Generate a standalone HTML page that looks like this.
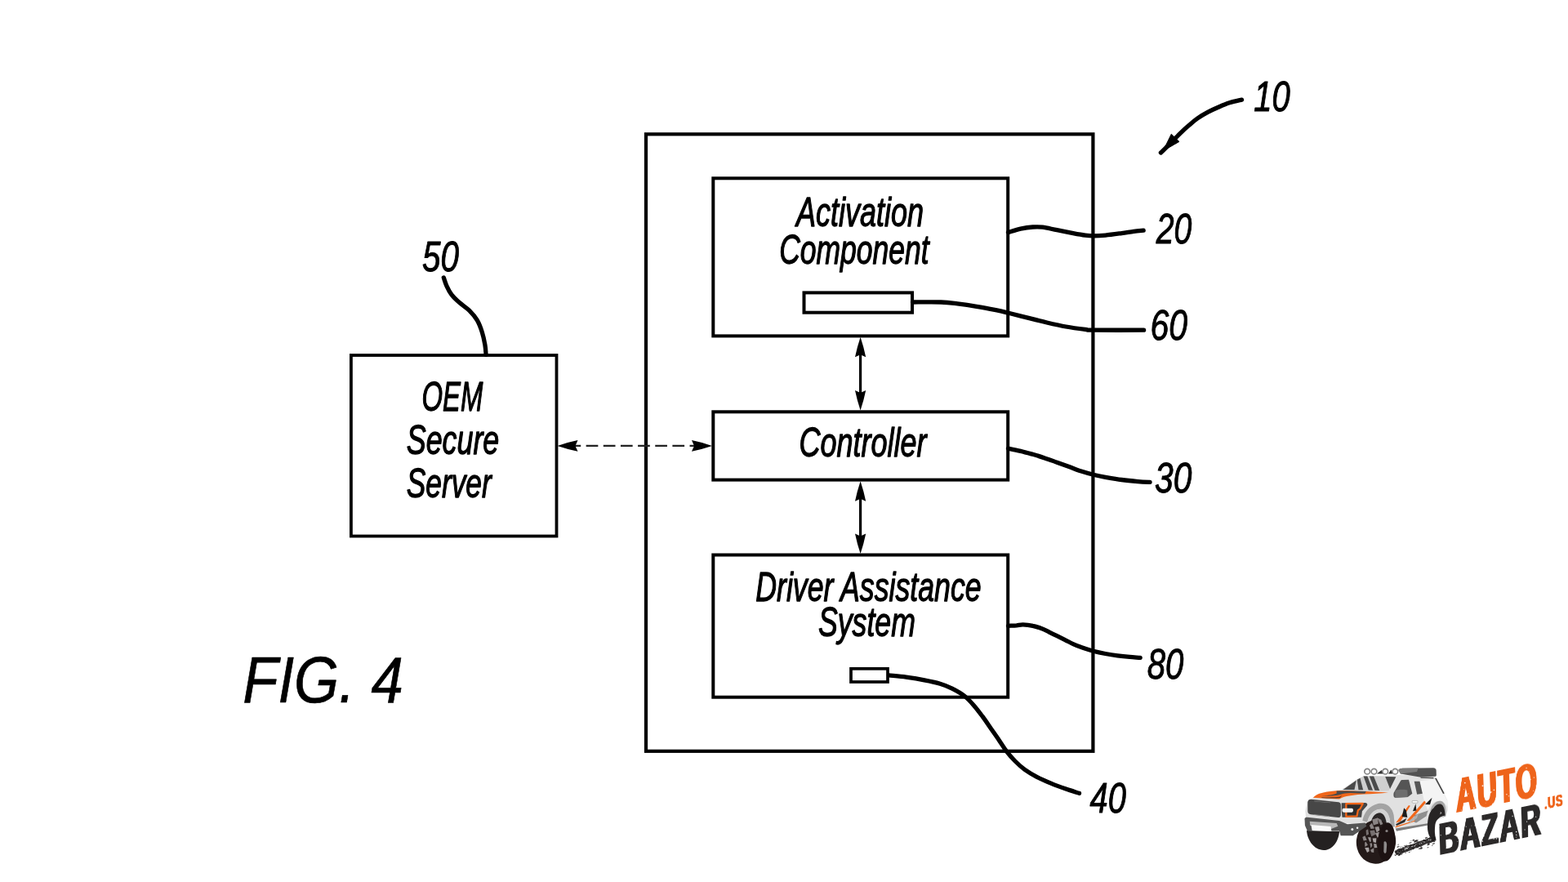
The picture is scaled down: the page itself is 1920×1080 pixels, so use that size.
<!DOCTYPE html>
<html lang="en">
<head>
<meta charset="utf-8">
<title>FIG. 4</title>
<style>
html,body{margin:0;padding:0;background:#fff;width:1920px;height:1080px;overflow:hidden}
svg{display:block;position:absolute;left:0;top:0}
.grit{pointer-events:none}
.lg{position:absolute;margin:0;padding:0;height:0;line-height:0;white-space:nowrap;font-family:"Liberation Sans",sans-serif;font-weight:700;transform-origin:0 0;letter-spacing:0.055em;will-change:transform}
.lbl{filter:grayscale(1)}
.lbl text{font-family:"Liberation Sans",sans-serif;font-style:italic;fill:#000;stroke:#000;stroke-width:1.3px;stroke-linejoin:round}
.box{fill:none;stroke:#000}
.lead{fill:none;stroke:#000;stroke-width:5.3;stroke-linecap:round;stroke-linejoin:round}
</style>
</head>
<body>
<svg width="1920" height="1080" viewBox="0 0 1920 1080">
<rect width="1920" height="1080" fill="#fff"/>
<g class="box">
<rect x="791" y="164.3" width="547.4" height="755.5" stroke-width="4.2"/>
<rect x="873.3" y="218.3" width="360.9" height="193.1" stroke-width="4"/>
<rect x="873.3" y="504.3" width="360.9" height="83.3" stroke-width="4"/>
<rect x="873.3" y="679.5" width="360.9" height="174.2" stroke-width="4"/>
<rect x="429.9" y="435" width="251.6" height="221.5" stroke-width="3.8"/>
<rect x="984.5" y="358.4" width="132.5" height="24.3" stroke-width="4"/>
<rect x="1042" y="818.8" width="45" height="16.2" stroke-width="3.7"/>
</g>
<path d="M696.5,545.9 H850" fill="none" stroke="#222" stroke-width="2.2" stroke-dasharray="14.7 6.45"/>
<g fill="#000" stroke="none">
<rect x="1052.0" y="430" width="3.2" height="55"/>
<rect x="1052.0" y="606" width="3.2" height="55"/>
<path d="M1053.6,412.8 Q1057.69,425.05 1060.2,437.3 L1053.6,434.3 L1047.0,437.3 Q1049.51,425.05 1053.6,412.8 Z"/>
<path d="M1053.6,502.6 Q1057.69,490.35 1060.2,478.1 L1053.6,481.1 L1047.0,478.1 Q1049.51,490.35 1053.6,502.6 Z"/>
<path d="M1053.6,589.2 Q1057.69,601.45 1060.2,613.7 L1053.6,610.7 L1047.0,613.7 Q1049.51,601.45 1053.6,589.2 Z"/>
<path d="M1053.6,678.0 Q1057.69,665.75 1060.2,653.5 L1053.6,656.5 L1047.0,653.5 Q1049.51,665.75 1053.6,678.0 Z"/>
<path d="M682.5,545.9 Q695.0,541.68 707.5,539.1 L704.5,545.9 L707.5,552.7 Q695.0,550.12 682.5,545.9 Z"/>
<path d="M872,545.9 Q859.5,541.68 847,539.1 L850,545.9 L847,552.7 Q859.5,550.12 872,545.9 Z"/>
</g>
<g class="lead">
<path d="M543.3,339.9 C543.9,341.6 545.3,346.6 546.9,350.1 C548.5,353.6 550.4,357.5 553.0,360.9 C555.6,364.3 559.0,367.4 562.6,370.6 C566.2,373.8 571.0,376.6 574.6,380.2 C578.2,383.8 581.7,387.8 584.3,392.2 C586.9,396.6 588.7,401.7 590.3,406.7 C591.9,411.7 593.1,417.7 593.9,422.3 C594.7,426.9 594.9,432.4 595.1,434.4"/>
<path d="M1520.5,122.1 C1518.0,122.7 1510.3,124.3 1505.6,125.8 C1500.9,127.3 1496.8,129.1 1492.4,131.0 C1488.0,132.9 1483.6,134.9 1479.3,137.2 C1475.0,139.5 1470.3,142.2 1466.4,144.9 C1462.5,147.6 1459.2,150.7 1455.8,153.6 C1452.4,156.5 1449.0,159.6 1446.1,162.4 C1443.2,165.2 1441.1,167.4 1438.3,170.2 C1435.5,173.0 1432.3,176.2 1429.5,179.0 C1426.7,181.8 1422.8,185.7 1421.4,187.0"/>
<path d="M1234.5,284.6 C1237.0,283.9 1244.7,281.3 1249.7,280.2 C1254.7,279.1 1260.1,278.3 1264.6,278.0 C1269.1,277.7 1271.5,277.6 1276.5,278.2 C1281.5,278.8 1288.0,280.5 1294.3,281.7 C1300.6,282.9 1308.3,284.5 1314.1,285.6 C1319.9,286.7 1324.8,287.6 1328.9,288.1 C1333.0,288.6 1334.7,288.8 1338.8,288.8 C1342.9,288.8 1347.8,288.6 1353.6,288.1 C1359.4,287.6 1367.6,286.4 1373.4,285.6 C1379.2,284.8 1383.8,283.9 1388.3,283.3 C1392.8,282.7 1398.2,282.4 1400.2,282.2"/>
<path d="M1117.5,370.0 C1123.3,370.0 1143.0,369.7 1152.2,370.0 C1161.4,370.3 1165.2,371.0 1172.5,371.9 C1179.8,372.8 1188.1,374.0 1195.9,375.3 C1203.7,376.6 1212.9,378.4 1219.4,379.7 C1225.9,381.0 1228.5,381.7 1235.0,383.3 C1241.5,384.9 1250.6,387.2 1258.4,389.1 C1266.2,391.1 1274.1,393.2 1281.9,395.0 C1289.7,396.8 1297.5,398.6 1305.3,400.0 C1313.1,401.4 1323.1,402.7 1328.8,403.4 C1334.5,404.1 1327.7,404.1 1339.7,404.2 C1351.7,404.3 1390.4,404.2 1400.6,404.2"/>
<path d="M1234.5,549.1 C1237.0,549.6 1244.7,551.1 1249.7,552.3 C1254.7,553.5 1259.6,554.9 1264.6,556.3 C1269.5,557.7 1274.5,559.2 1279.4,560.9 C1284.4,562.5 1289.3,564.4 1294.3,566.2 C1299.2,568.0 1304.1,569.8 1309.1,571.6 C1314.0,573.4 1319.0,575.5 1324.0,577.1 C1329.0,578.7 1333.9,580.1 1338.8,581.3 C1343.7,582.5 1347.8,583.3 1353.6,584.3 C1359.4,585.3 1366.8,586.6 1373.4,587.5 C1380.0,588.4 1387.4,589.1 1393.2,589.6 C1399.0,590.1 1405.6,590.3 1408.1,590.4"/>
<path d="M1234.5,766.3 C1236.2,766.2 1241.8,766.0 1244.8,765.8 C1247.8,765.5 1249.4,764.7 1252.7,764.8 C1256.0,764.9 1261.0,765.5 1264.6,766.3 C1268.2,767.0 1271.2,768.0 1274.5,769.3 C1277.8,770.5 1281.1,772.2 1284.4,773.8 C1287.7,775.4 1291.0,777.1 1294.3,778.7 C1297.6,780.3 1300.9,782.0 1304.2,783.6 C1307.5,785.2 1310.8,787.1 1314.1,788.6 C1317.4,790.1 1319.9,791.2 1324.0,792.6 C1328.1,794.0 1333.9,796.0 1338.8,797.3 C1343.7,798.6 1348.6,799.6 1353.6,800.5 C1358.5,801.4 1363.5,802.2 1368.5,802.9 C1373.5,803.5 1378.7,804.0 1383.3,804.4 C1387.9,804.8 1394.0,805.2 1396.2,805.4"/>
<path d="M1088.5,826.9 C1092.0,827.3 1102.4,828.1 1109.6,829.1 C1116.8,830.1 1125.0,831.4 1131.9,832.8 C1138.8,834.1 1145.4,835.5 1151.1,837.2 C1156.8,838.9 1161.0,840.6 1165.9,843.1 C1170.8,845.6 1176.2,848.5 1180.7,852.0 C1185.2,855.5 1188.9,859.7 1192.6,863.9 C1196.3,868.1 1199.5,872.5 1203.0,877.2 C1206.5,881.9 1209.8,887.0 1213.3,892.0 C1216.8,897.0 1220.5,902.2 1223.7,906.9 C1226.9,911.6 1229.4,916.0 1232.6,920.2 C1235.8,924.4 1239.3,928.3 1243.0,932.0 C1246.7,935.7 1250.4,939.2 1254.8,942.4 C1259.2,945.6 1264.2,948.5 1269.6,951.3 C1275.0,954.1 1281.5,956.9 1287.4,959.4 C1293.3,961.9 1299.5,964.1 1305.2,966.1 C1310.9,968.1 1318.8,970.4 1321.5,971.3"/>
</g>
<path d="M1434.3,164.2 L1443.9,173.4 L1424.2,184.8 Z" fill="#000" stroke="#000" stroke-width="1" stroke-linejoin="round"/>
<g class="lbl">
<text transform="translate(975.0,277.2) scale(0.7204,1)" font-size="50.0">Activation</text>
<text transform="translate(954.25,323.0) scale(0.7093,1)" font-size="50.0">Component</text>
<text transform="translate(978.5,558.5) scale(0.7196,1)" font-size="50.0">Controller</text>
<text transform="translate(925.25,736.0) scale(0.714,1)" font-size="50.0">Driver Assistance</text>
<text transform="translate(1002.0,779.3) scale(0.7133,1)" font-size="50.0">System</text>
<text transform="translate(516.5,502.5) scale(0.6564,1)" font-size="50.0">OEM</text>
<text transform="translate(497.75,556.0) scale(0.7166,1)" font-size="50.0">Secure</text>
<text transform="translate(497.75,608.5) scale(0.7059,1)" font-size="50.0">Server</text>
<text transform="translate(517.0,331.5) scale(0.7825,1)" font-size="51.6" style="stroke-width:1.0px">50</text>
<text transform="translate(1535.3,135.7) scale(0.775,1)" font-size="51.6" style="stroke-width:1.0px">10</text>
<text transform="translate(1415.7,297.8) scale(0.7598,1)" font-size="51.6" style="stroke-width:1.0px">20</text>
<text transform="translate(1408.4,415.6) scale(0.7934,1)" font-size="51.6" style="stroke-width:1.0px">60</text>
<text transform="translate(1414.0,602.7) scale(0.7891,1)" font-size="51.6" style="stroke-width:1.0px">30</text>
<text transform="translate(1404.8,831.2) scale(0.778,1)" font-size="51.6" style="stroke-width:1.0px">80</text>
<text transform="translate(1334.6,994.5) scale(0.7703,1)" font-size="51.6" style="stroke-width:1.0px">40</text>
<text transform="translate(297.2,860.3) scale(0.8843,1)" font-size="80" style="stroke-width:0.7px">FIG. 4</text>
</g>

<g transform="translate(1590,935) scale(0.083333)">
<path d="M120,985 L600,995 C595,1120 510,1272 370,1272 C225,1272 128,1120 120,985 Z" fill="#242121"/>
<path d="M215,500 L300,440 L450,405 L640,385 L860,235 L960,182 L1440,172 L1500,165 L2010,195 L2140,440 L2188,540 L2192,690 L2160,775 L2010,840 L1900,905 L1440,990 L1400,900 L960,905 L640,870 L110,810 L100,700 L130,560 Z" fill="#e1e1e1"/>
<path d="M1425,955 L1895,880 L1900,905 L1440,992 Z" fill="#7d7d7d"/>
<path d="M940,840 C960,720 1040,620 1160,590 C1290,565 1380,640 1400,760 L1415,930 L1350,930 C1350,800 1320,700 1230,670 C1120,655 1040,740 1010,860 Z" fill="#a3a3a3"/>
<path d="M1010,860 C1040,740 1120,665 1230,670 C1320,700 1350,800 1352,930 L1300,930 C1290,820 1270,740 1200,720 C1120,715 1075,790 1060,870 Z" fill="#d2d2d2"/>
<path d="M1060,880 C1075,790 1120,722 1200,722 C1270,740 1292,820 1300,940 L1060,940 Z" fill="#2b2727"/>
<path d="M1780,255 L2000,232 L2132,440 L2185,545 L2188,640 C2150,560 2080,530 2010,560 C1960,580 1930,620 1900,680 L1850,560 L1822,440 Z" fill="#f4f4f4"/>
<path d="M1935,690 C1965,590 2035,535 2100,552 C2155,572 2172,650 2165,775 L2125,790 L1960,720 Z" fill="#a6a6a6"/>
<path d="M1985,655 C2010,610 2060,585 2095,598 C2135,615 2150,680 2155,762 C2080,775 2020,820 2008,900 C1998,1000 2002,1060 2022,1112 L1985,1130 C1930,1100 1898,1030 1895,935 C1895,800 1925,700 1985,655 Z" fill="#272424"/>
<g transform="rotate(6 1140 1150)">
<ellipse cx="1140" cy="1150" rx="290" ry="322" fill="#241a19"/>
</g>
<path d="M1084,822 L1162,799 L1175,882 L1101,905 Z" fill="#8a8484"/>
<path d="M1154,794 L1214,824 L1240,887 L1204,903 Z" fill="#8a8484"/>
<path d="M1043,909 L1078,872 L1116,953 L1063,960 Z" fill="#8a8484"/>
<path d="M1121,934 L1180,925 L1194,979 L1149,1014 Z" fill="#9a9494"/>
<path d="M991,980 L1022,964 L1033,1037 L997,1055 Z" fill="#777070"/>
<path d="M1048,986 L1115,977 L1137,1037 L1072,1071 Z" fill="#777070"/>
<path d="M1128,1024 L1188,1006 L1178,1070 L1163,1092 Z" fill="#9a9494"/>
<path d="M940,1081 L976,1059 L1005,1125 L956,1135 Z" fill="#8a8484"/>
<path d="M1018,1082 L1062,1084 L1066,1145 L1048,1153 Z" fill="#9a9494"/>
<path d="M1087,1097 L1145,1094 L1139,1164 L1100,1155 Z" fill="#aaa4a4"/>
<path d="M974,1162 L988,1147 L1019,1196 L976,1225 Z" fill="#8a8484"/>
<path d="M1048,1170 L1080,1170 L1083,1210 L1061,1241 Z" fill="#8a8484"/>
<path d="M1106,1175 L1144,1180 L1157,1237 L1112,1238 Z" fill="#9a9494"/>
<path d="M974,1237 L1033,1233 L1041,1288 L1009,1308 Z" fill="#aaa4a4"/>
<path d="M1056,1270 L1108,1240 L1107,1309 L1071,1303 Z" fill="#8a8484"/>
<ellipse cx="1292" cy="1150" rx="128" ry="285" fill="#1d1212" transform="rotate(4 1292 1150)"/>
<path d="M1255,1150 C1275,1130 1300,1150 1298,1200 L1290,1300 C1280,1330 1255,1320 1252,1290 Z" fill="#8f8b8b"/>
<circle cx="1296" cy="990" r="19" fill="#8a8585"/>
<path d="M135,565 C140,535 160,522 185,525 L590,568 C612,572 622,590 622,612 L622,755 C622,780 605,795 580,792 L180,748 C150,742 135,725 135,695 Z" fill="#474747"/>
<path d="M230,548 L470,572 L470,580 L230,556 Z" fill="#8a8a8a"/>
<path d="M225,745 L455,772 L455,782 L225,755 Z" fill="#8a8a8a"/>
<path d="M632,580 L985,575 C1010,580 1020,600 1005,620 L935,700 L925,790 L642,790 L632,700 Z" fill="#464646"/>
<path d="M700,590 L945,588 L905,665 L875,685 L858,772 L700,778 Z" fill="#2d2d2d" stroke="#f0661a" stroke-width="27" stroke-linejoin="round"/>
<rect x="642" y="658" width="162" height="58" rx="22" fill="#f3f3f3"/>
<path d="M215,500 C250,455 330,425 450,410 C560,398 640,392 760,398 L1000,408 L1320,425 C1200,440 1080,442 960,450 C840,458 720,470 640,500 L600,522 Z" fill="#f0661a"/>
<path d="M560,402 L995,405 L975,440 L760,432 C700,434 660,440 620,452 C560,470 460,480 340,478 C440,470 520,455 560,438 Z" fill="#4a4a4a"/>
<path d="M340,495 C440,500 540,498 600,490 L640,470 L610,505 C540,515 440,512 340,505 Z" fill="#5a3a2a"/>
<path d="M640,385 L860,235 L960,182 L1430,195 L1325,400 L1000,408 Z" fill="#cfcfcf"/>
<path d="M655,383 L850,245 L822,385 Z" fill="#4a4a4a"/>
<path d="M862,236 L905,214 L950,388 L882,386 Z" fill="#4a4a4a"/>
<path d="M955,187 L1012,185 L1092,392 L1028,390 Z" fill="#4a4a4a"/>
<path d="M1042,186 L1105,187 L1190,396 L1122,394 Z" fill="#4a4a4a"/>
<path d="M1275,192 L1432,196 L1345,372 Z" fill="#4a4a4a"/>
<path d="M1400,430 L1498,258 C1505,245 1515,240 1530,240 L1620,238 L1672,440 L1605,492 L1420,502 C1400,500 1392,470 1400,430 Z" fill="#555555"/>
<path d="M1420,400 C1440,380 1560,375 1600,390 L1605,492 L1420,502 Z" fill="#6e6e6e"/>
<path d="M1700,262 L1782,260 L1822,440 L1742,452 Z" fill="#555555"/>
<path d="M1468,95 C1480,75 1500,70 1530,68 L1980,64 C2010,66 2022,80 2024,100 L2026,170 C2024,185 2015,190 2000,190 L1800,200 L1500,150 Z" fill="#525252"/>
<path d="M1468,95 C1480,75 1500,70 1530,68 L1760,66 L1740,120 L1500,150 Z" fill="#7a7a7a"/>
<path d="M1795,200 L1985,205 L1985,218 L1795,214 Z" fill="#3d3d3d"/>
<path d="M2005,215 L2025,212 L2145,438 L2125,445 Z" fill="#444444"/>
<path d="M1150,150 L1220,95 L1250,150 Z" fill="#333"/>
<path d="M1320,150 L1360,90 L1390,150 Z" fill="#333"/>
<circle cx="1010" cy="116" r="40" fill="#ffffff" stroke="#858585" stroke-width="20"/>
<circle cx="1110" cy="116" r="40" fill="#ffffff" stroke="#858585" stroke-width="20"/>
<circle cx="1275" cy="116" r="40" fill="#ffffff" stroke="#858585" stroke-width="20"/>
<circle cx="1420" cy="116" r="40" fill="#ffffff" stroke="#858585" stroke-width="20"/>
<rect x="1670" y="545" width="82" height="34" rx="10" fill="#f8f8f8" stroke="#8a8a8a" stroke-width="6"/>
<path d="M1700,760 L1905,690 L1890,730 L1880,770 L1730,870 L1700,860 Z" fill="#8f8f8f"/>
<path d="M1590,840 L1640,842 L1872,572 L1850,545 Z" fill="#f0661a"/>
<path d="M1430,870 L1500,848 L1642,622 L1620,612 Z" fill="#f0661a"/>
<path d="M1420,942 L1700,852 L1722,830 L1430,922 Z" fill="#f0661a"/>
<path d="M1520,780 L1550,650 L1582,690 L1600,792 Z" fill="#1c1c1c"/>
<path d="M1680,700 L1722,590 L1732,690 Z" fill="#1c1c1c"/>
<path d="M1860,600 L1962,500 L1932,602 Z" fill="#1c1c1c"/>
<path d="M1430,890 L1590,800 L1560,860 L1440,912 Z" fill="#2a2a2a"/>
<path d="M1610,850 L1760,740 L1740,800 L1640,870 Z" fill="#b0b0b0"/>
<path d="M90,810 C95,795 110,788 130,790 L600,840 L720,890 L980,870 L1000,920 L900,990 L800,1060 L620,1060 L600,990 L130,990 L95,910 Z" fill="#555555"/>
<path d="M165,850 L560,875 L580,920 L480,960 L170,910 Z" fill="#b8b8b8"/>
<path d="M185,900 L475,925 L485,995 L200,985 Z" fill="#fafafa"/>
<circle cx="790" cy="965" r="18" fill="#f0f0f0"/><circle cx="865" cy="945" r="15" fill="#f0f0f0"/>
<path d="M1410,1292 L1465,1252 L1530,1240 L1600,1204 L1680,1182 L1760,1146 L1850,1120 L1930,1088 L2005,1075 L2018,1122 L1955,1160 L1880,1180 L1800,1218 L1720,1242 L1640,1278 L1560,1305 L1490,1335 L1435,1338 Z" fill="#1f1b1b" opacity="0.88"/>
<ellipse cx="1606" cy="1232" rx="16" ry="8" fill="#221e1e" opacity="0.66" transform="rotate(-19 1606 1232)"/>
<ellipse cx="1459" cy="1281" rx="8" ry="4" fill="#221e1e" opacity="0.70" transform="rotate(-19 1459 1281)"/>
<ellipse cx="1456" cy="1228" rx="9" ry="5" fill="#221e1e" opacity="0.60" transform="rotate(-19 1456 1228)"/>
<ellipse cx="1803" cy="1212" rx="16" ry="8" fill="#221e1e" opacity="0.68" transform="rotate(-19 1803 1212)"/>
<ellipse cx="1985" cy="1130" rx="10" ry="5" fill="#221e1e" opacity="0.55" transform="rotate(-19 1985 1130)"/>
<ellipse cx="1613" cy="1219" rx="10" ry="5" fill="#221e1e" opacity="0.76" transform="rotate(-19 1613 1219)"/>
<ellipse cx="1796" cy="1164" rx="8" ry="4" fill="#221e1e" opacity="0.59" transform="rotate(-19 1796 1164)"/>
<ellipse cx="1821" cy="1165" rx="12" ry="6" fill="#221e1e" opacity="0.76" transform="rotate(-19 1821 1165)"/>
<ellipse cx="1685" cy="1231" rx="11" ry="6" fill="#221e1e" opacity="0.76" transform="rotate(-19 1685 1231)"/>
<ellipse cx="1741" cy="1143" rx="18" ry="9" fill="#221e1e" opacity="0.63" transform="rotate(-19 1741 1143)"/>
<ellipse cx="1989" cy="1053" rx="10" ry="5" fill="#221e1e" opacity="0.72" transform="rotate(-19 1989 1053)"/>
<ellipse cx="1452" cy="1329" rx="19" ry="9" fill="#221e1e" opacity="0.76" transform="rotate(-19 1452 1329)"/>
<ellipse cx="1933" cy="1113" rx="16" ry="8" fill="#221e1e" opacity="0.71" transform="rotate(-19 1933 1113)"/>
<ellipse cx="1927" cy="1089" rx="15" ry="7" fill="#221e1e" opacity="0.80" transform="rotate(-19 1927 1089)"/>
<ellipse cx="1465" cy="1221" rx="20" ry="10" fill="#221e1e" opacity="0.63" transform="rotate(-19 1465 1221)"/>
<ellipse cx="1655" cy="1132" rx="8" ry="4" fill="#221e1e" opacity="0.71" transform="rotate(-19 1655 1132)"/>
<ellipse cx="1514" cy="1332" rx="9" ry="5" fill="#221e1e" opacity="0.61" transform="rotate(-19 1514 1332)"/>
<ellipse cx="1663" cy="1250" rx="9" ry="4" fill="#221e1e" opacity="0.70" transform="rotate(-19 1663 1250)"/>
<ellipse cx="1756" cy="1227" rx="12" ry="6" fill="#221e1e" opacity="0.69" transform="rotate(-19 1756 1227)"/>
<ellipse cx="1644" cy="1164" rx="22" ry="11" fill="#221e1e" opacity="0.57" transform="rotate(-19 1644 1164)"/>
<ellipse cx="1522" cy="1274" rx="16" ry="8" fill="#221e1e" opacity="0.62" transform="rotate(-19 1522 1274)"/>
<ellipse cx="1425" cy="1348" rx="13" ry="7" fill="#221e1e" opacity="0.75" transform="rotate(-19 1425 1348)"/>
<ellipse cx="1987" cy="1062" rx="18" ry="9" fill="#221e1e" opacity="0.52" transform="rotate(-19 1987 1062)"/>
<ellipse cx="1958" cy="1120" rx="21" ry="10" fill="#221e1e" opacity="0.86" transform="rotate(-19 1958 1120)"/>
<ellipse cx="1652" cy="1269" rx="8" ry="4" fill="#221e1e" opacity="0.53" transform="rotate(-19 1652 1269)"/>
<ellipse cx="1539" cy="1296" rx="13" ry="6" fill="#221e1e" opacity="0.52" transform="rotate(-19 1539 1296)"/>
<ellipse cx="1417" cy="1334" rx="8" ry="4" fill="#221e1e" opacity="0.89" transform="rotate(-19 1417 1334)"/>
<ellipse cx="1776" cy="1204" rx="11" ry="6" fill="#221e1e" opacity="0.66" transform="rotate(-19 1776 1204)"/>
<ellipse cx="1629" cy="1302" rx="14" ry="7" fill="#221e1e" opacity="0.72" transform="rotate(-19 1629 1302)"/>
<ellipse cx="1466" cy="1190" rx="13" ry="6" fill="#221e1e" opacity="0.62" transform="rotate(-19 1466 1190)"/>
<ellipse cx="1902" cy="1232" rx="15" ry="8" fill="#221e1e" opacity="0.57" transform="rotate(-19 1902 1232)"/>
<ellipse cx="1731" cy="1210" rx="15" ry="8" fill="#221e1e" opacity="0.94" transform="rotate(-19 1731 1210)"/>
<ellipse cx="1935" cy="1130" rx="10" ry="5" fill="#221e1e" opacity="0.85" transform="rotate(-19 1935 1130)"/>
<ellipse cx="1743" cy="1235" rx="12" ry="6" fill="#221e1e" opacity="0.60" transform="rotate(-19 1743 1235)"/>
<ellipse cx="1911" cy="1184" rx="20" ry="10" fill="#221e1e" opacity="0.83" transform="rotate(-19 1911 1184)"/>
<ellipse cx="1558" cy="1205" rx="13" ry="6" fill="#221e1e" opacity="0.51" transform="rotate(-19 1558 1205)"/>
<ellipse cx="1436" cy="1296" rx="22" ry="11" fill="#221e1e" opacity="0.70" transform="rotate(-19 1436 1296)"/>
<ellipse cx="1985" cy="1176" rx="22" ry="11" fill="#221e1e" opacity="0.66" transform="rotate(-19 1985 1176)"/>
<ellipse cx="1547" cy="1269" rx="17" ry="8" fill="#221e1e" opacity="0.91" transform="rotate(-19 1547 1269)"/>
<ellipse cx="1916" cy="1161" rx="17" ry="9" fill="#221e1e" opacity="0.86" transform="rotate(-19 1916 1161)"/>
<ellipse cx="1478" cy="1344" rx="19" ry="9" fill="#221e1e" opacity="0.72" transform="rotate(-19 1478 1344)"/>
<ellipse cx="1536" cy="1234" rx="12" ry="6" fill="#221e1e" opacity="0.86" transform="rotate(-19 1536 1234)"/>
<ellipse cx="1991" cy="1036" rx="18" ry="9" fill="#221e1e" opacity="0.58" transform="rotate(-19 1991 1036)"/>
<ellipse cx="1491" cy="1333" rx="21" ry="11" fill="#221e1e" opacity="0.86" transform="rotate(-19 1491 1333)"/>
<ellipse cx="1518" cy="1331" rx="13" ry="6" fill="#221e1e" opacity="0.75" transform="rotate(-19 1518 1331)"/>
<ellipse cx="1490" cy="1272" rx="22" ry="11" fill="#221e1e" opacity="0.79" transform="rotate(-19 1490 1272)"/>
<ellipse cx="1743" cy="1129" rx="20" ry="10" fill="#221e1e" opacity="0.59" transform="rotate(-19 1743 1129)"/>
<ellipse cx="1567" cy="1286" rx="11" ry="6" fill="#221e1e" opacity="0.76" transform="rotate(-19 1567 1286)"/>
<ellipse cx="1575" cy="1310" rx="13" ry="6" fill="#221e1e" opacity="0.71" transform="rotate(-19 1575 1310)"/>
<ellipse cx="1776" cy="1250" rx="14" ry="7" fill="#221e1e" opacity="0.91" transform="rotate(-19 1776 1250)"/>
<ellipse cx="1719" cy="1197" rx="14" ry="7" fill="#221e1e" opacity="0.58" transform="rotate(-19 1719 1197)"/>
<ellipse cx="1434" cy="1303" rx="10" ry="5" fill="#221e1e" opacity="0.71" transform="rotate(-19 1434 1303)"/>
<ellipse cx="1851" cy="1139" rx="16" ry="8" fill="#221e1e" opacity="0.85" transform="rotate(-19 1851 1139)"/>
<ellipse cx="1489" cy="1325" rx="11" ry="6" fill="#221e1e" opacity="0.62" transform="rotate(-19 1489 1325)"/>
<ellipse cx="1877" cy="1091" rx="21" ry="11" fill="#221e1e" opacity="0.70" transform="rotate(-19 1877 1091)"/>
<ellipse cx="1783" cy="1158" rx="15" ry="8" fill="#221e1e" opacity="0.81" transform="rotate(-19 1783 1158)"/>
<ellipse cx="1690" cy="1125" rx="18" ry="9" fill="#221e1e" opacity="0.89" transform="rotate(-19 1690 1125)"/>
<ellipse cx="1970" cy="1129" rx="16" ry="8" fill="#221e1e" opacity="0.92" transform="rotate(-19 1970 1129)"/>
<ellipse cx="1908" cy="1167" rx="9" ry="4" fill="#221e1e" opacity="0.61" transform="rotate(-19 1908 1167)"/>
<ellipse cx="1472" cy="1319" rx="19" ry="10" fill="#221e1e" opacity="0.90" transform="rotate(-19 1472 1319)"/>
<ellipse cx="1521" cy="1263" rx="21" ry="10" fill="#221e1e" opacity="0.94" transform="rotate(-19 1521 1263)"/>
<ellipse cx="1564" cy="1243" rx="13" ry="7" fill="#221e1e" opacity="0.72" transform="rotate(-19 1564 1243)"/>
<ellipse cx="2012" cy="1128" rx="15" ry="8" fill="#221e1e" opacity="0.65" transform="rotate(-19 2012 1128)"/>
<ellipse cx="1535" cy="1300" rx="18" ry="9" fill="#221e1e" opacity="0.51" transform="rotate(-19 1535 1300)"/>
<ellipse cx="1748" cy="1228" rx="17" ry="8" fill="#221e1e" opacity="0.73" transform="rotate(-19 1748 1228)"/>
<ellipse cx="1474" cy="1296" rx="19" ry="10" fill="#221e1e" opacity="0.94" transform="rotate(-19 1474 1296)"/>
<ellipse cx="1481" cy="1348" rx="12" ry="6" fill="#221e1e" opacity="0.56" transform="rotate(-19 1481 1348)"/>
<ellipse cx="1682" cy="1237" rx="20" ry="10" fill="#221e1e" opacity="0.62" transform="rotate(-19 1682 1237)"/>
<ellipse cx="1522" cy="1222" rx="9" ry="4" fill="#221e1e" opacity="0.53" transform="rotate(-19 1522 1222)"/>
<ellipse cx="1826" cy="1142" rx="9" ry="4" fill="#221e1e" opacity="0.92" transform="rotate(-19 1826 1142)"/>
<ellipse cx="1803" cy="1243" rx="8" ry="4" fill="#221e1e" opacity="0.89" transform="rotate(-19 1803 1243)"/>
<ellipse cx="1687" cy="1252" rx="16" ry="8" fill="#221e1e" opacity="0.92" transform="rotate(-19 1687 1252)"/>
<ellipse cx="1573" cy="1224" rx="9" ry="5" fill="#221e1e" opacity="0.57" transform="rotate(-19 1573 1224)"/>
<ellipse cx="1447" cy="1290" rx="12" ry="6" fill="#221e1e" opacity="0.64" transform="rotate(-19 1447 1290)"/>
<ellipse cx="1864" cy="1129" rx="13" ry="6" fill="#221e1e" opacity="0.51" transform="rotate(-19 1864 1129)"/>
<ellipse cx="1560" cy="1255" rx="18" ry="9" fill="#221e1e" opacity="0.75" transform="rotate(-19 1560 1255)"/>
<ellipse cx="1535" cy="1284" rx="20" ry="10" fill="#221e1e" opacity="0.69" transform="rotate(-19 1535 1284)"/>
<ellipse cx="1723" cy="1199" rx="13" ry="7" fill="#221e1e" opacity="0.73" transform="rotate(-19 1723 1199)"/>
<ellipse cx="1839" cy="1128" rx="18" ry="9" fill="#221e1e" opacity="0.79" transform="rotate(-19 1839 1128)"/>
<ellipse cx="1658" cy="1284" rx="8" ry="4" fill="#221e1e" opacity="0.56" transform="rotate(-19 1658 1284)"/>
<ellipse cx="1472" cy="1290" rx="9" ry="4" fill="#221e1e" opacity="0.88" transform="rotate(-19 1472 1290)"/>
<ellipse cx="1938" cy="1154" rx="12" ry="6" fill="#221e1e" opacity="0.61" transform="rotate(-19 1938 1154)"/>
<ellipse cx="1595" cy="1269" rx="11" ry="6" fill="#221e1e" opacity="0.93" transform="rotate(-19 1595 1269)"/>
<ellipse cx="1995" cy="1145" rx="11" ry="6" fill="#221e1e" opacity="0.93" transform="rotate(-19 1995 1145)"/>
<ellipse cx="1603" cy="1280" rx="15" ry="7" fill="#221e1e" opacity="0.73" transform="rotate(-19 1603 1280)"/>
<ellipse cx="1543" cy="1265" rx="8" ry="4" fill="#221e1e" opacity="0.62" transform="rotate(-19 1543 1265)"/>
<ellipse cx="1475" cy="1295" rx="12" ry="6" fill="#221e1e" opacity="0.60" transform="rotate(-19 1475 1295)"/>
<ellipse cx="1768" cy="1190" rx="19" ry="9" fill="#221e1e" opacity="0.80" transform="rotate(-19 1768 1190)"/>
<ellipse cx="1853" cy="1136" rx="22" ry="11" fill="#221e1e" opacity="0.57" transform="rotate(-19 1853 1136)"/>
<ellipse cx="1852" cy="1182" rx="8" ry="4" fill="#221e1e" opacity="0.88" transform="rotate(-19 1852 1182)"/>
<ellipse cx="1950" cy="1120" rx="10" ry="5" fill="#221e1e" opacity="0.74" transform="rotate(-19 1950 1120)"/>
<ellipse cx="1728" cy="1135" rx="20" ry="10" fill="#221e1e" opacity="0.87" transform="rotate(-19 1728 1135)"/>
<ellipse cx="1776" cy="1164" rx="11" ry="5" fill="#221e1e" opacity="0.51" transform="rotate(-19 1776 1164)"/>
<ellipse cx="1500" cy="1225" rx="9" ry="5" fill="#221e1e" opacity="0.88" transform="rotate(-19 1500 1225)"/>
<ellipse cx="1755" cy="1153" rx="15" ry="7" fill="#221e1e" opacity="0.50" transform="rotate(-19 1755 1153)"/>
<ellipse cx="1898" cy="1105" rx="15" ry="8" fill="#221e1e" opacity="0.74" transform="rotate(-19 1898 1105)"/>
<ellipse cx="1800" cy="1171" rx="9" ry="4" fill="#221e1e" opacity="0.62" transform="rotate(-19 1800 1171)"/>
<ellipse cx="1845" cy="1130" rx="19" ry="9" fill="#221e1e" opacity="0.94" transform="rotate(-19 1845 1130)"/>
<ellipse cx="1711" cy="1149" rx="19" ry="10" fill="#221e1e" opacity="0.78" transform="rotate(-19 1711 1149)"/>
<ellipse cx="1791" cy="1184" rx="10" ry="5" fill="#221e1e" opacity="0.61" transform="rotate(-19 1791 1184)"/>
<ellipse cx="1855" cy="1151" rx="8" ry="4" fill="#221e1e" opacity="0.62" transform="rotate(-19 1855 1151)"/>
<ellipse cx="1823" cy="1168" rx="18" ry="9" fill="#221e1e" opacity="0.63" transform="rotate(-19 1823 1168)"/>
<ellipse cx="1726" cy="1183" rx="21" ry="10" fill="#221e1e" opacity="0.59" transform="rotate(-19 1726 1183)"/>
<ellipse cx="2008" cy="1113" rx="8" ry="4" fill="#221e1e" opacity="0.71" transform="rotate(-19 2008 1113)"/>
<ellipse cx="1916" cy="1112" rx="11" ry="5" fill="#221e1e" opacity="0.93" transform="rotate(-19 1916 1112)"/>
<ellipse cx="1550" cy="1272" rx="10" ry="5" fill="#221e1e" opacity="0.74" transform="rotate(-19 1550 1272)"/>
<ellipse cx="1974" cy="1134" rx="21" ry="10" fill="#221e1e" opacity="0.82" transform="rotate(-19 1974 1134)"/>
<ellipse cx="1570" cy="1218" rx="15" ry="7" fill="#221e1e" opacity="0.51" transform="rotate(-19 1570 1218)"/>
<ellipse cx="1427" cy="1274" rx="10" ry="5" fill="#221e1e" opacity="0.65" transform="rotate(-19 1427 1274)"/>
<ellipse cx="1618" cy="1252" rx="8" ry="4" fill="#221e1e" opacity="0.84" transform="rotate(-19 1618 1252)"/>
<ellipse cx="1907" cy="1191" rx="21" ry="11" fill="#221e1e" opacity="0.63" transform="rotate(-19 1907 1191)"/>
<ellipse cx="1640" cy="1204" rx="22" ry="11" fill="#221e1e" opacity="0.77" transform="rotate(-19 1640 1204)"/>
<ellipse cx="1634" cy="1231" rx="9" ry="5" fill="#221e1e" opacity="0.88" transform="rotate(-19 1634 1231)"/>
<ellipse cx="1603" cy="1260" rx="11" ry="6" fill="#221e1e" opacity="0.62" transform="rotate(-19 1603 1260)"/>
<ellipse cx="1716" cy="1136" rx="21" ry="10" fill="#221e1e" opacity="0.87" transform="rotate(-19 1716 1136)"/>
<ellipse cx="1804" cy="1247" rx="22" ry="11" fill="#221e1e" opacity="0.75" transform="rotate(-19 1804 1247)"/>
<ellipse cx="1835" cy="1156" rx="19" ry="9" fill="#221e1e" opacity="0.79" transform="rotate(-19 1835 1156)"/>
<ellipse cx="1582" cy="1206" rx="21" ry="11" fill="#221e1e" opacity="0.56" transform="rotate(-19 1582 1206)"/>
<ellipse cx="1697" cy="1192" rx="22" ry="11" fill="#221e1e" opacity="0.62" transform="rotate(-19 1697 1192)"/>
<ellipse cx="1804" cy="1233" rx="16" ry="8" fill="#221e1e" opacity="0.68" transform="rotate(-19 1804 1233)"/>
<ellipse cx="1515" cy="1293" rx="15" ry="7" fill="#221e1e" opacity="0.60" transform="rotate(-19 1515 1293)"/>
<ellipse cx="1967" cy="1203" rx="14" ry="7" fill="#221e1e" opacity="0.56" transform="rotate(-19 1967 1203)"/>
<ellipse cx="1528" cy="1257" rx="11" ry="6" fill="#221e1e" opacity="0.62" transform="rotate(-19 1528 1257)"/>
<ellipse cx="1768" cy="1205" rx="19" ry="9" fill="#221e1e" opacity="0.69" transform="rotate(-19 1768 1205)"/>
<ellipse cx="1668" cy="1198" rx="8" ry="4" fill="#221e1e" opacity="0.62" transform="rotate(-19 1668 1198)"/>
<ellipse cx="1982" cy="1136" rx="15" ry="8" fill="#221e1e" opacity="0.78" transform="rotate(-19 1982 1136)"/>
<ellipse cx="1923" cy="1129" rx="13" ry="7" fill="#221e1e" opacity="0.70" transform="rotate(-19 1923 1129)"/>
<ellipse cx="1991" cy="1143" rx="21" ry="10" fill="#221e1e" opacity="0.51" transform="rotate(-19 1991 1143)"/>
<ellipse cx="1449" cy="1333" rx="16" ry="8" fill="#221e1e" opacity="0.50" transform="rotate(-19 1449 1333)"/>
<ellipse cx="1664" cy="1200" rx="20" ry="10" fill="#221e1e" opacity="0.88" transform="rotate(-19 1664 1200)"/>
<ellipse cx="1942" cy="1119" rx="10" ry="5" fill="#ffffff" opacity="0.8" transform="rotate(-19 1942 1119)"/>
<ellipse cx="1808" cy="1171" rx="11" ry="5" fill="#ffffff" opacity="0.8" transform="rotate(-19 1808 1171)"/>
<ellipse cx="1788" cy="1159" rx="6" ry="3" fill="#ffffff" opacity="0.8" transform="rotate(-19 1788 1159)"/>
<ellipse cx="1847" cy="1152" rx="13" ry="6" fill="#ffffff" opacity="0.8" transform="rotate(-19 1847 1152)"/>
<ellipse cx="1780" cy="1180" rx="11" ry="5" fill="#ffffff" opacity="0.8" transform="rotate(-19 1780 1180)"/>
<ellipse cx="1803" cy="1170" rx="7" ry="3" fill="#ffffff" opacity="0.8" transform="rotate(-19 1803 1170)"/>
<ellipse cx="1724" cy="1189" rx="11" ry="5" fill="#ffffff" opacity="0.8" transform="rotate(-19 1724 1189)"/>
<ellipse cx="1462" cy="1297" rx="9" ry="4" fill="#ffffff" opacity="0.8" transform="rotate(-19 1462 1297)"/>
<ellipse cx="1942" cy="1126" rx="8" ry="4" fill="#ffffff" opacity="0.8" transform="rotate(-19 1942 1126)"/>
<ellipse cx="1591" cy="1238" rx="11" ry="5" fill="#ffffff" opacity="0.8" transform="rotate(-19 1591 1238)"/>
<ellipse cx="1606" cy="1218" rx="9" ry="4" fill="#ffffff" opacity="0.8" transform="rotate(-19 1606 1218)"/>
<ellipse cx="1591" cy="1246" rx="13" ry="6" fill="#ffffff" opacity="0.8" transform="rotate(-19 1591 1246)"/>
<ellipse cx="1566" cy="1244" rx="11" ry="5" fill="#ffffff" opacity="0.8" transform="rotate(-19 1566 1244)"/>
<ellipse cx="1564" cy="1267" rx="12" ry="5" fill="#ffffff" opacity="0.8" transform="rotate(-19 1564 1267)"/>
<ellipse cx="1708" cy="1210" rx="12" ry="6" fill="#ffffff" opacity="0.8" transform="rotate(-19 1708 1210)"/>
<ellipse cx="1571" cy="1248" rx="12" ry="5" fill="#ffffff" opacity="0.8" transform="rotate(-19 1571 1248)"/>
<ellipse cx="1615" cy="1231" rx="8" ry="4" fill="#ffffff" opacity="0.8" transform="rotate(-19 1615 1231)"/>
<ellipse cx="1671" cy="1216" rx="13" ry="6" fill="#ffffff" opacity="0.8" transform="rotate(-19 1671 1216)"/>
<ellipse cx="1531" cy="1273" rx="7" ry="3" fill="#ffffff" opacity="0.8" transform="rotate(-19 1531 1273)"/>
<ellipse cx="1479" cy="1315" rx="9" ry="4" fill="#ffffff" opacity="0.8" transform="rotate(-19 1479 1315)"/>
<ellipse cx="1915" cy="1122" rx="13" ry="6" fill="#ffffff" opacity="0.8" transform="rotate(-19 1915 1122)"/>
<ellipse cx="1620" cy="1191" rx="13" ry="6" fill="#ffffff" opacity="0.8" transform="rotate(-19 1620 1191)"/>
<ellipse cx="1826" cy="1149" rx="9" ry="4" fill="#ffffff" opacity="0.8" transform="rotate(-19 1826 1149)"/>
<ellipse cx="1621" cy="1222" rx="6" ry="3" fill="#ffffff" opacity="0.8" transform="rotate(-19 1621 1222)"/>
<ellipse cx="1598" cy="1247" rx="13" ry="6" fill="#ffffff" opacity="0.8" transform="rotate(-19 1598 1247)"/>
</g>
</svg>
<div class="lg" style="left:1782.90px;top:975.00px;font-size:59.64px;color:#ee641b;text-shadow:2.2px 0 0 #ee641b,-2.2px 0 0 #ee641b,1.1px 0 0 #ee641b,-1.1px 0 0 #ee641b;transform:matrix(0.5563,-0.1132,0.028,1,0,0)">AUTO</div>
<div class="lg" style="left:1761.70px;top:1027.60px;font-size:56.38px;color:#2b2929;text-shadow:2.2px 0 0 #2b2929,-2.2px 0 0 #2b2929,1.1px 0 0 #2b2929,-1.1px 0 0 #2b2929;transform:matrix(0.5937,-0.1208,0.028,1,0,0)">BAZAR</div>
<div class="lg" style="left:1890.50px;top:983.80px;font-size:21.00px;color:#ee641b;text-shadow:0.8px 0 0 #ee641b,-0.8px 0 0 #ee641b,0.4px 0 0 #ee641b,-0.4px 0 0 #ee641b;transform:matrix(0.6018,-0.1225,0.028,1,0,0)">.US</div>
<svg class="grit" width="1920" height="1080" viewBox="0 0 1920 1080" aria-hidden="true"><g fill="#fff"><circle cx="1856.7" cy="1018.6" r="0.83" opacity="0.87"/><circle cx="1874.5" cy="1039.1" r="0.37" opacity="0.66"/><circle cx="1905.4" cy="1008.0" r="0.89" opacity="0.50"/><circle cx="1833.3" cy="962.1" r="0.68" opacity="0.71"/><circle cx="1764.0" cy="958.7" r="0.52" opacity="0.86"/><circle cx="1878.4" cy="952.2" r="0.83" opacity="0.51"/><circle cx="1855.9" cy="948.4" r="0.35" opacity="0.84"/><circle cx="1793.8" cy="958.6" r="0.94" opacity="0.84"/><circle cx="1806.0" cy="1043.6" r="0.67" opacity="0.76"/><circle cx="1793.1" cy="1041.3" r="0.76" opacity="0.88"/><circle cx="1897.8" cy="968.1" r="0.57" opacity="0.52"/><circle cx="1784.1" cy="941.4" r="0.53" opacity="0.72"/><circle cx="1762.5" cy="1011.3" r="0.55" opacity="0.59"/><circle cx="1886.4" cy="988.8" r="0.54" opacity="0.67"/><circle cx="1869.1" cy="940.5" r="0.94" opacity="0.46"/><circle cx="1876.0" cy="1030.3" r="0.36" opacity="0.80"/><circle cx="1817.7" cy="1000.0" r="0.36" opacity="0.47"/><circle cx="1789.5" cy="1042.9" r="0.47" opacity="0.79"/><circle cx="1903.3" cy="1041.4" r="0.56" opacity="0.61"/><circle cx="1841.8" cy="1022.4" r="0.41" opacity="0.79"/><circle cx="1883.2" cy="1032.0" r="0.37" opacity="0.88"/><circle cx="1775.9" cy="972.8" r="0.72" opacity="0.86"/><circle cx="1813.7" cy="1039.4" r="0.68" opacity="0.59"/><circle cx="1810.2" cy="954.2" r="0.40" opacity="0.52"/><circle cx="1866.8" cy="1047.6" r="0.45" opacity="0.47"/><circle cx="1912.0" cy="994.8" r="0.59" opacity="0.56"/><circle cx="1852.3" cy="1028.2" r="0.62" opacity="0.64"/><circle cx="1770.5" cy="1038.4" r="0.37" opacity="0.67"/><circle cx="1889.4" cy="948.9" r="0.79" opacity="0.88"/><circle cx="1857.8" cy="1023.8" r="0.41" opacity="0.65"/><circle cx="1784.7" cy="1030.3" r="0.53" opacity="0.65"/><circle cx="1913.9" cy="1031.2" r="0.94" opacity="0.65"/><circle cx="1836.2" cy="1017.2" r="0.64" opacity="0.58"/><circle cx="1823.4" cy="950.7" r="0.58" opacity="0.89"/><circle cx="1907.9" cy="1005.5" r="0.65" opacity="0.60"/><circle cx="1775.5" cy="965.0" r="0.82" opacity="0.84"/><circle cx="1816.9" cy="1023.6" r="0.81" opacity="0.76"/><circle cx="1862.9" cy="1020.6" r="0.57" opacity="0.77"/><circle cx="1804.7" cy="989.4" r="0.81" opacity="0.76"/><circle cx="1806.7" cy="1041.8" r="0.74" opacity="0.71"/><circle cx="1763.8" cy="996.4" r="0.50" opacity="0.75"/><circle cx="1832.4" cy="1027.1" r="0.74" opacity="0.81"/><circle cx="1814.9" cy="1007.4" r="0.79" opacity="0.82"/><circle cx="1815.2" cy="1030.1" r="0.87" opacity="0.76"/><circle cx="1910.4" cy="1043.0" r="0.66" opacity="0.69"/><circle cx="1787.3" cy="1029.4" r="0.91" opacity="0.66"/><circle cx="1867.1" cy="1016.0" r="0.79" opacity="0.53"/><circle cx="1880.6" cy="1000.2" r="0.75" opacity="0.64"/><circle cx="1856.8" cy="1022.3" r="0.73" opacity="0.77"/><circle cx="1766.2" cy="952.2" r="0.61" opacity="0.74"/><circle cx="1795.3" cy="1012.2" r="0.73" opacity="0.47"/><circle cx="1833.7" cy="959.8" r="0.38" opacity="0.51"/><circle cx="1810.2" cy="954.7" r="0.47" opacity="0.47"/><circle cx="1832.7" cy="977.4" r="0.72" opacity="0.72"/><circle cx="1798.2" cy="1037.0" r="0.35" opacity="0.63"/><circle cx="1804.3" cy="980.7" r="0.42" opacity="0.82"/><circle cx="1818.8" cy="938.1" r="0.72" opacity="0.49"/><circle cx="1844.9" cy="972.7" r="0.70" opacity="0.88"/><circle cx="1886.4" cy="981.8" r="0.84" opacity="0.74"/><circle cx="1818.2" cy="950.2" r="0.71" opacity="0.70"/><circle cx="1907.5" cy="1044.4" r="0.72" opacity="0.61"/><circle cx="1897.8" cy="934.1" r="0.41" opacity="0.70"/><circle cx="1855.5" cy="950.0" r="0.73" opacity="0.85"/><circle cx="1819.1" cy="983.2" r="0.49" opacity="0.58"/><circle cx="1909.8" cy="977.3" r="0.93" opacity="0.86"/><circle cx="1852.6" cy="963.6" r="0.94" opacity="0.67"/><circle cx="1825.2" cy="970.4" r="0.94" opacity="0.67"/><circle cx="1805.5" cy="988.4" r="0.42" opacity="0.73"/><circle cx="1829.4" cy="967.4" r="0.82" opacity="0.82"/><circle cx="1764.0" cy="994.7" r="0.51" opacity="0.87"/><circle cx="1880.8" cy="962.0" r="0.51" opacity="0.52"/><circle cx="1912.3" cy="967.4" r="0.71" opacity="0.66"/><circle cx="1860.0" cy="1002.8" r="0.80" opacity="0.50"/><circle cx="1877.6" cy="968.3" r="0.67" opacity="0.60"/><circle cx="1807.1" cy="994.4" r="0.63" opacity="0.61"/><circle cx="1875.2" cy="1001.4" r="0.37" opacity="0.56"/><circle cx="1831.3" cy="1038.5" r="0.88" opacity="0.70"/><circle cx="1764.2" cy="1022.7" r="0.61" opacity="0.71"/><circle cx="1869.6" cy="1006.1" r="0.64" opacity="0.86"/><circle cx="1820.6" cy="978.7" r="0.86" opacity="0.54"/><circle cx="1807.1" cy="1028.6" r="0.39" opacity="0.83"/><circle cx="1867.6" cy="983.3" r="0.52" opacity="0.80"/><circle cx="1900.4" cy="950.3" r="0.64" opacity="0.70"/><circle cx="1837.6" cy="971.7" r="0.44" opacity="0.71"/><circle cx="1885.4" cy="941.8" r="0.49" opacity="0.82"/><circle cx="1882.3" cy="1009.7" r="0.37" opacity="0.78"/><circle cx="1910.8" cy="1047.8" r="0.77" opacity="0.47"/><circle cx="1890.0" cy="959.0" r="0.74" opacity="0.88"/><circle cx="1870.3" cy="949.3" r="0.53" opacity="0.86"/><circle cx="1784.8" cy="1003.6" r="0.60" opacity="0.52"/><circle cx="1856.6" cy="939.0" r="0.41" opacity="0.62"/><circle cx="1772.9" cy="940.6" r="0.70" opacity="0.78"/><circle cx="1895.5" cy="949.3" r="0.61" opacity="0.59"/><circle cx="1853.2" cy="989.8" r="0.91" opacity="0.62"/><circle cx="1770.5" cy="1013.5" r="0.44" opacity="0.73"/><circle cx="1838.9" cy="1037.8" r="0.68" opacity="0.73"/><circle cx="1802.0" cy="996.9" r="0.50" opacity="0.79"/><circle cx="1840.6" cy="949.3" r="0.49" opacity="0.62"/><circle cx="1874.0" cy="954.4" r="0.78" opacity="0.74"/><circle cx="1775.0" cy="1010.1" r="0.40" opacity="0.51"/><circle cx="1852.3" cy="961.2" r="0.88" opacity="0.67"/><circle cx="1811.1" cy="1024.8" r="0.37" opacity="0.78"/><circle cx="1770.2" cy="951.2" r="0.92" opacity="0.76"/><circle cx="1795.9" cy="947.2" r="0.93" opacity="0.75"/><circle cx="1886.7" cy="949.9" r="0.72" opacity="0.61"/><circle cx="1797.7" cy="972.0" r="0.72" opacity="0.61"/><circle cx="1820.6" cy="949.6" r="0.85" opacity="0.74"/><circle cx="1884.3" cy="983.4" r="0.86" opacity="0.68"/><circle cx="1852.1" cy="999.4" r="0.79" opacity="0.63"/><circle cx="1776.7" cy="937.8" r="0.47" opacity="0.47"/><circle cx="1897.2" cy="988.8" r="0.81" opacity="0.45"/><circle cx="1833.5" cy="1035.4" r="0.72" opacity="0.64"/><circle cx="1832.8" cy="945.4" r="0.44" opacity="0.52"/><circle cx="1818.9" cy="978.0" r="0.88" opacity="0.52"/><circle cx="1800.6" cy="965.6" r="0.45" opacity="0.58"/><circle cx="1797.7" cy="989.0" r="0.37" opacity="0.87"/><circle cx="1818.1" cy="1040.9" r="0.76" opacity="0.75"/><circle cx="1833.7" cy="1041.8" r="0.42" opacity="0.75"/><circle cx="1806.2" cy="1010.9" r="0.79" opacity="0.52"/><circle cx="1792.6" cy="936.8" r="0.49" opacity="0.49"/><circle cx="1823.0" cy="1045.0" r="0.57" opacity="0.59"/><circle cx="1833.1" cy="966.3" r="0.79" opacity="0.77"/><circle cx="1786.8" cy="961.4" r="0.75" opacity="0.87"/><circle cx="1860.2" cy="983.1" r="0.94" opacity="0.45"/><circle cx="1771.3" cy="1022.8" r="0.60" opacity="0.47"/><circle cx="1845.4" cy="1046.8" r="0.66" opacity="0.61"/><circle cx="1776.3" cy="942.1" r="0.89" opacity="0.67"/><circle cx="1904.2" cy="940.1" r="0.50" opacity="0.47"/><circle cx="1822.4" cy="940.9" r="0.50" opacity="0.63"/><circle cx="1808.5" cy="939.9" r="0.37" opacity="0.89"/><circle cx="1789.3" cy="992.0" r="0.59" opacity="0.69"/><circle cx="1774.8" cy="969.8" r="0.41" opacity="0.69"/><circle cx="1902.0" cy="1002.2" r="0.86" opacity="0.55"/><circle cx="1764.6" cy="995.5" r="0.64" opacity="0.71"/><circle cx="1819.2" cy="1005.3" r="0.79" opacity="0.86"/><circle cx="1808.8" cy="985.2" r="0.85" opacity="0.55"/><circle cx="1779.6" cy="969.5" r="0.40" opacity="0.80"/><circle cx="1886.6" cy="969.7" r="0.43" opacity="0.49"/><circle cx="1799.2" cy="943.6" r="0.61" opacity="0.71"/><circle cx="1799.3" cy="941.0" r="0.77" opacity="0.47"/><circle cx="1792.4" cy="966.6" r="0.57" opacity="0.49"/><circle cx="1825.9" cy="969.8" r="0.80" opacity="0.70"/><circle cx="1898.2" cy="1008.6" r="0.81" opacity="0.71"/><circle cx="1829.2" cy="1027.1" r="0.74" opacity="0.88"/><circle cx="1872.7" cy="1013.9" r="0.51" opacity="0.82"/><circle cx="1820.1" cy="948.8" r="0.39" opacity="0.53"/><circle cx="1801.9" cy="1011.1" r="0.52" opacity="0.48"/><circle cx="1878.1" cy="997.5" r="0.37" opacity="0.47"/><circle cx="1781.8" cy="974.7" r="0.87" opacity="0.88"/><circle cx="1855.0" cy="960.3" r="0.61" opacity="0.61"/><circle cx="1812.2" cy="935.4" r="0.70" opacity="0.82"/><circle cx="1872.5" cy="944.9" r="0.67" opacity="0.53"/><circle cx="1869.8" cy="984.9" r="0.91" opacity="0.81"/><circle cx="1780.0" cy="970.1" r="0.90" opacity="0.66"/><circle cx="1828.0" cy="984.3" r="0.81" opacity="0.87"/><circle cx="1843.0" cy="1044.5" r="0.71" opacity="0.50"/><circle cx="1885.8" cy="981.8" r="0.38" opacity="0.89"/><circle cx="1767.0" cy="999.8" r="0.64" opacity="0.85"/><circle cx="1821.7" cy="958.6" r="0.52" opacity="0.54"/><circle cx="1847.5" cy="974.7" r="0.80" opacity="0.56"/><circle cx="1815.5" cy="962.3" r="0.94" opacity="0.83"/><circle cx="1891.2" cy="1004.5" r="0.59" opacity="0.51"/><circle cx="1888.4" cy="989.9" r="0.37" opacity="0.53"/><circle cx="1777.0" cy="1015.8" r="0.89" opacity="0.54"/><circle cx="1883.1" cy="970.9" r="0.76" opacity="0.84"/><circle cx="1856.7" cy="1025.2" r="0.58" opacity="0.45"/><circle cx="1839.8" cy="1000.9" r="0.46" opacity="0.63"/><circle cx="1810.2" cy="937.1" r="0.54" opacity="0.62"/><circle cx="1834.4" cy="1014.2" r="0.59" opacity="0.89"/><circle cx="1886.0" cy="1039.3" r="0.77" opacity="0.75"/></g></svg>
</body>
</html>
